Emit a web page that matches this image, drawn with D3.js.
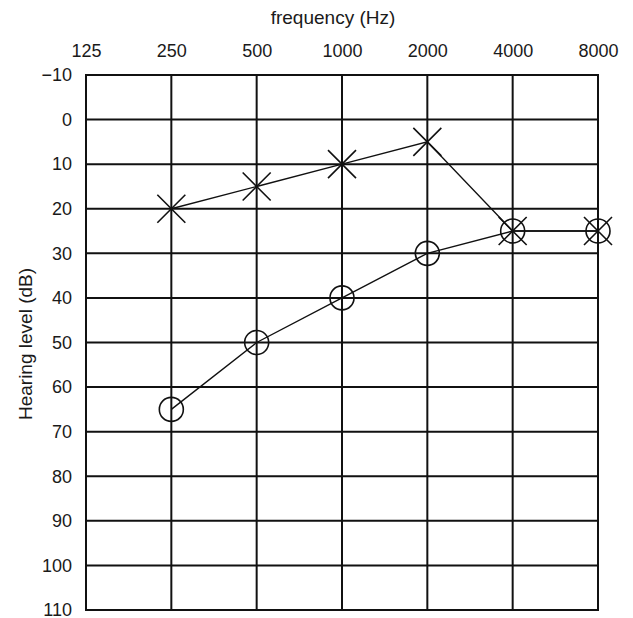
<!DOCTYPE html>
<html>
<head>
<meta charset="utf-8">
<script src="https://cdn.jsdelivr.net/npm/d3@7"></script>
<style>
  body { margin: 0; background: #fff; }
  svg text { font-family: "Liberation Sans", Arial, Helvetica, sans-serif; fill: #1a1a1a; }
</style>
</head>
<body>
<svg id="chart" width="633" height="618"></svg>
<script>
// audiogram values
var freqs = [125, 250, 500, 1000, 2000, 4000, 8000];
var levels = [-10, 0, 10, 20, 30, 40, 50, 60, 70, 80, 90, 100, 110];

// X marks (air conduction, one ear) and O marks (other ear)
var crossFreqs = [250, 500, 1000, 2000, 4000, 8000];
var crossLevels = [20, 15, 10, 5, 25, 25];
var circleFreqs = [250, 500, 1000, 2000, 4000, 8000];
var circleLevels = [65, 50, 40, 30, 25, 25];

var svg = d3.select("#chart");

var x = d3.scaleLog().base(2).domain([125, 8000]).range([86, 598]);
var y = d3.scaleLinear().domain([-10, 110]).range([75, 610]);

// grid
var grid = svg.append("g").attr("stroke", "#111").attr("stroke-width", 2);
grid.selectAll(".v")
  .data(freqs)
  .enter().append("line")
  .attr("x1", function(d) { return x(d); })
  .attr("x2", function(d) { return x(d); })
  .attr("y1", y(-10))
  .attr("y2", y(110));
grid.selectAll(".h")
  .data(levels)
  .enter().append("line")
  .attr("x1", x(125) - 1)
  .attr("x2", x(8000) + 1)
  .attr("y1", function(d) { return y(d); })
  .attr("y2", function(d) { return y(d); });

// axes (labels only)
var xAxis = svg.append("g")
  .attr("transform", "translate(0," + y(-10) + ")")
  .call(d3.axisTop(x).tickValues(freqs).tickFormat(d3.format("d")).tickSize(0).tickPadding(18));
var yAxis = svg.append("g")
  .attr("transform", "translate(" + x(125) + ",0)")
  .call(d3.axisLeft(y).tickValues(levels).tickFormat(d3.format("d")).tickSize(0).tickPadding(14));
[xAxis, yAxis].forEach(function(a) {
  a.select(".domain").remove();
  a.attr("font-family", null).attr("font-size", null);
  a.selectAll("text").style("font-size", "18px");
});

svg.append("text")
  .attr("x", 333)
  .attr("y", 24)
  .attr("text-anchor", "middle")
  .style("font-size", "19px")
  .text("frequency (Hz)");

svg.append("text")
  .attr("transform", "translate(32,344) rotate(-90)")
  .attr("text-anchor", "middle")
  .style("font-size", "19px")
  .text("Hearing level (dB)");

// series
var line = d3.line()
  .x(function(d) { return x(d[0]); })
  .y(function(d) { return y(d[1]); });

var crossPts = d3.zip(crossFreqs, crossLevels);
var circlePts = d3.zip(circleFreqs, circleLevels);

svg.append("path")
  .datum(circlePts)
  .attr("d", line)
  .attr("fill", "none")
  .attr("stroke", "#111")
  .attr("stroke-width", 1.4);

svg.append("path")
  .datum(crossPts)
  .attr("d", line)
  .attr("fill", "none")
  .attr("stroke", "#111")
  .attr("stroke-width", 1.4);

svg.selectAll(".ring")
  .data(circlePts)
  .enter().append("circle")
  .attr("cx", function(d) { return x(d[0]); })
  .attr("cy", function(d) { return y(d[1]); })
  .attr("r", 12)
  .attr("fill", "none")
  .attr("stroke", "#111")
  .attr("stroke-width", 1.6);

var s = 14;
svg.selectAll(".cross")
  .data(crossPts)
  .enter().append("path")
  .attr("d", function(d) {
    var cx = x(d[0]), cy = y(d[1]);
    return "M" + (cx - s) + "," + (cy - s) + "L" + (cx + s) + "," + (cy + s) +
           "M" + (cx - s) + "," + (cy + s) + "L" + (cx + s) + "," + (cy - s);
  })
  .attr("fill", "none")
  .attr("stroke", "#111")
  .attr("stroke-width", 1.6);
</script>
</body>
</html>
